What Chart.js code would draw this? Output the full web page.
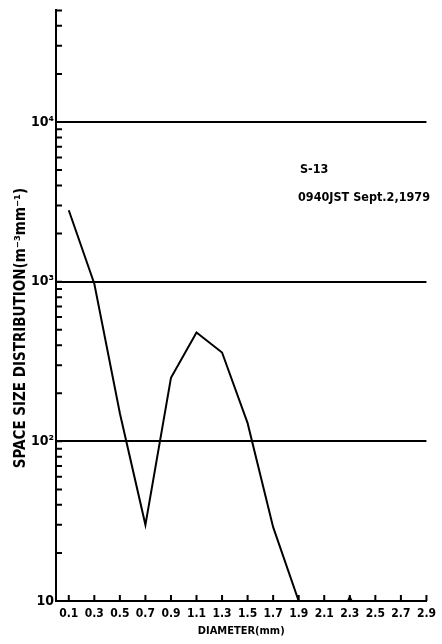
<!DOCTYPE html>
<html>
<head>
<meta charset="utf-8">
<script src="https://cdn.jsdelivr.net/npm/chart.js@4/dist/chart.umd.min.js"></script>
<style>
  html, body { margin: 0; padding: 0; background: #fff; }
  #wrap { width: 442px; height: 644px; }
</style>
</head>
<body>
<div id="wrap"><canvas id="sizeDist"></canvas></div>
<script>
// S-13, 0940 JST Sept. 2, 1979 : space size distribution
const diameters = [0.1, 0.3, 0.5, 0.7, 0.9, 1.1, 1.3, 1.5, 1.7, 1.9];
const density   = [2800, 970, 150, 30, 250, 480, 360, 130, 29, 10];

const xTicks = [0.1, 0.3, 0.5, 0.7, 0.9, 1.1, 1.3, 1.5, 1.7, 1.9, 2.1, 2.3, 2.5, 2.7, 2.9];
const yDecades = [10, 100, 1000, 10000];
const yDecadeLabels = ["10", "10²", "10³", "10⁴"];
const yMinorSteps = [2, 3, 4, 5, 6, 7, 8, 9];
const yTop = 50000;

const yTitle = "SPACE SIZE DISTRIBUTION(m⁻³mm⁻¹)";
const xTitle = "DIAMETER(mm)";
const note = ["S-13", "0940JST Sept.2,1979"];

const FONT = '"DejaVu Sans Condensed", "Liberation Sans Narrow", sans-serif';

// every decade plus its minor steps, up to the top of the axis
const yTicks = [];
yDecades.forEach(d => {
  yTicks.push(d);
  yMinorSteps.forEach(m => { if (d * m <= yTop) yTicks.push(d * m); });
});

// inward tick marks, the 2.3 marker, rotated y title and the note
const inkPlugin = {
  id: "ink",
  afterDraw(chart) {
    const { ctx, chartArea: a, scales: { x, y } } = chart;
    ctx.save();
    ctx.strokeStyle = "#000";
    ctx.fillStyle = "#000";
    ctx.lineWidth = 2;

    ctx.beginPath();
    y.ticks.forEach(t => {
      const py = y.getPixelForValue(t.value);
      ctx.moveTo(a.left, py);
      ctx.lineTo(a.left + 6, py);
    });
    x.ticks.forEach(t => {
      const px = x.getPixelForValue(t.value);
      ctx.moveTo(px, a.bottom);
      ctx.lineTo(px, a.bottom - 6);
    });
    ctx.stroke();

    const mx = x.getPixelForValue(2.3);
    ctx.beginPath();
    ctx.moveTo(mx - 3, a.bottom);
    ctx.lineTo(mx, a.bottom - 6);
    ctx.lineTo(mx + 3, a.bottom);
    ctx.closePath();
    ctx.fill();

    ctx.save();
    ctx.translate(21, 328);
    ctx.rotate(-Math.PI / 2);
    ctx.font = "bold 15px " + FONT;
    ctx.textAlign = "center";
    ctx.textBaseline = "middle";
    ctx.fillText(yTitle, 0, 0);
    ctx.restore();

    ctx.font = "bold 12.5px " + FONT;
    ctx.textAlign = "left";
    ctx.textBaseline = "alphabetic";
    ctx.fillText(note[0], 300, 173);
    ctx.fillText(note[1], 298, 201);
    ctx.restore();
  }
};

new Chart(document.getElementById("sizeDist"), {
  type: "line",
  data: {
    datasets: [{
      data: diameters.map((d, i) => ({ x: d, y: density[i] })),
      borderColor: "#000",
      borderWidth: 2,
      pointRadius: 0,
      tension: 0,
      fill: false
    }]
  },
  options: {
    responsive: true,
    maintainAspectRatio: false,
    animation: false,
    layout: { padding: { top: 6, right: 14, left: 0, bottom: 0 } },
    plugins: {
      legend: { display: false },
      tooltip: { enabled: false }
    },
    scales: {
      x: {
        type: "linear",
        min: 0,
        max: 2.9,
        afterBuildTicks: s => { s.ticks = xTicks.map(v => ({ value: v })); },
        afterFit: s => { s.height = 43; },
        ticks: {
          autoSkip: false,
          maxRotation: 0,
          padding: 6,
          color: "#000",
          font: { family: FONT, size: 12, weight: "bold" },
          callback: v => v.toFixed(1)
        },
        grid: { display: false, drawTicks: false },
        border: { display: true, color: "#000", width: 2 },
        title: {
          display: true,
          text: xTitle,
          color: "#000",
          font: { family: FONT, size: 11, weight: "bold" },
          padding: { top: 0, bottom: 6 }
        }
      },
      y: {
        type: "logarithmic",
        min: 10,
        max: yTop,
        afterBuildTicks: s => { s.ticks = yTicks.map(v => ({ value: v })); },
        afterFit: s => { s.width = 56; },
        ticks: {
          autoSkip: false,
          padding: 2,
          color: "#000",
          font: { family: FONT, size: 14, weight: "bold" },
          callback: v => {
            const i = yDecades.indexOf(v);
            return i >= 0 ? yDecadeLabels[i] : "";
          }
        },
        grid: {
          drawTicks: false,
          lineWidth: 2,
          color: c => (c.tick && yDecades.indexOf(c.tick.value) > 0) ? "#000" : "rgba(0,0,0,0)"
        },
        border: { display: true, color: "#000", width: 2 }
      }
    }
  },
  plugins: [inkPlugin]
});
</script>
</body>
</html>
